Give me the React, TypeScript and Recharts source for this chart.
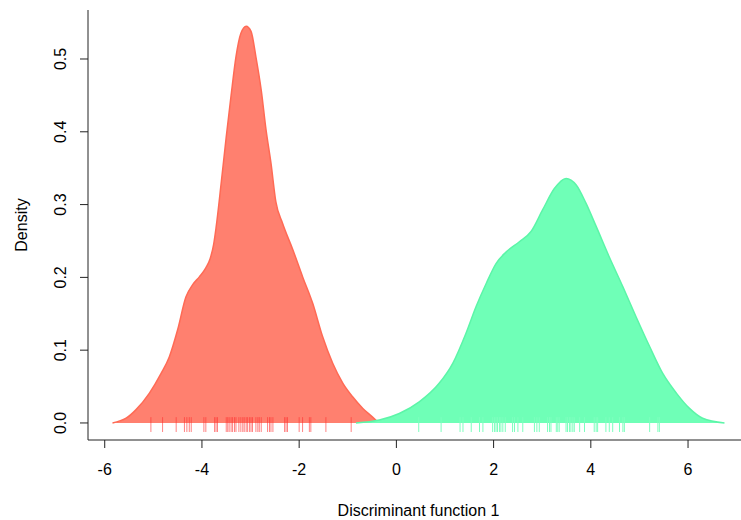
import React from "react";
import { ComposedChart, Area, XAxis, YAxis, ReferenceLine, Label } from "recharts";

// Density of group 1 (red)
const redX = [-5.84, -5.56, -5.36, -5.08, -4.84, -4.67, -4.5, -4.33, -4.19, -4.05, -3.92, -3.83, -3.76, -3.71, -3.6, -3.5, -3.4, -3.3, -3.2, -3.09, -2.99, -2.89, -2.78, -2.68, -2.58, -2.48, -2.34, -2.13, -1.93, -1.72, -1.52, -1.31, -1.1, -0.9, -0.69, -0.49, -0.38];
const redY = [0, 0.0065, 0.018, 0.041, 0.068, 0.091, 0.128, 0.173, 0.19, 0.201, 0.213, 0.226, 0.245, 0.268, 0.332, 0.393, 0.45, 0.503, 0.535, 0.545, 0.538, 0.503, 0.457, 0.402, 0.357, 0.304, 0.274, 0.238, 0.201, 0.164, 0.119, 0.082, 0.0545, 0.036, 0.02, 0.008, 0.001];

// Density of group 2 (green)
const greenX = [-0.83, -0.35, 0.06, 0.47, 0.88, 1.16, 1.43, 1.64, 1.85, 2.05, 2.26, 2.53, 2.77, 3.01, 3.25, 3.49, 3.7, 3.9, 4.11, 4.38, 4.66, 4.93, 5.21, 5.48, 5.76, 6.03, 6.3, 6.75];
const greenY = [0, 0.004, 0.013, 0.029, 0.0545, 0.082, 0.123, 0.16, 0.192, 0.219, 0.235, 0.249, 0.263, 0.293, 0.322, 0.336, 0.327, 0.302, 0.27, 0.228, 0.187, 0.146, 0.105, 0.068, 0.041, 0.02, 0.0065, 0];

// Rug values
const redRug = [-5.05, -4.81, -4.53, -4.36, -4.31, -4.26, -4.22, -3.96, -3.92, -3.74, -3.71, -3.68, -3.5, -3.47, -3.44, -3.4, -3.37, -3.33, -3.3, -3.24, -3.2, -3.16, -3.13, -3.09, -3.06, -3.02, -2.99, -2.96, -2.89, -2.85, -2.82, -2.78, -2.65, -2.61, -2.58, -2.54, -2.3, -2.27, -2.24, -2.0, -1.93, -1.79, -1.76, -1.45, -0.93];
const greenRug = [0.46, 0.92, 1.31, 1.37, 1.54, 1.71, 1.78, 1.98, 2.02, 2.05, 2.08, 2.12, 2.15, 2.19, 2.24, 2.39, 2.43, 2.5, 2.6, 2.84, 2.89, 2.94, 3.11, 3.15, 3.18, 3.29, 3.32, 3.35, 3.49, 3.52, 3.56, 3.59, 3.63, 3.66, 3.77, 3.87, 4.07, 4.11, 4.14, 4.31, 4.38, 4.45, 4.59, 4.66, 4.69, 5.21, 5.38, 5.41];

const xTicks = [-6, -4, -2, 0, 2, 4, 6];
const yTicks = [0, 0.1, 0.2, 0.3, 0.4, 0.5];
const xDomain = [-6.344, 7.254];
const yDomain = [-0.0234, 0.5673];
const rugTop = 0.008;
const rugBottom = -0.0124;

const redData = redX.map((x, i) => ({ x, y: redY[i] }));
const greenData = greenX.map((x, i) => ({ x, y: greenY[i] }));

const FONT = "'Liberation Sans', Arial, sans-serif";

const XTick = (props: any) => {
  const { x, y, payload } = props;
  return (
    <text x={x} y={y - 1} textAnchor="middle" fontSize={16} fontFamily={FONT} fill="#000">
      {String(payload.value)}
    </text>
  );
};

const YTick = (props: any) => {
  const { x, y, payload } = props;
  return (
    <text x={x} y={y} transform={`rotate(-90 ${x} ${y})`} textAnchor="middle" fontSize={16} fontFamily={FONT} fill="#000">
      {Number(payload.value).toFixed(1)}
    </text>
  );
};

export default function App() {
  return (
    <div style={{ position: "absolute", left: 0, top: 0, width: 741, height: 520, overflow: "hidden", background: "#fff" }}>
      <ComposedChart width={760} height={520} margin={{ top: 10, right: 11, bottom: 0, left: 0 }}>
        <XAxis
          type="number"
          dataKey="x"
          domain={xDomain}
          ticks={xTicks}
          allowDataOverflow
          height={80}
          tickSize={8}
          tickMargin={28}
          tick={<XTick />}
          stroke="#222"
          tickLine={{ stroke: "#222" }}
          axisLine={{ stroke: "#222" }}
        >
          <Label
            content={(p: any) => {
              const vb = p.viewBox;
              return (
                <text x={vb.x + vb.width / 2} y={516} textAnchor="middle" fontSize={16} fontFamily={FONT} fill="#000">
                  Discriminant function 1
                </text>
              );
            }}
          />
        </XAxis>
        <XAxis
          xAxisId="top"
          orientation="top"
          type="number"
          domain={xDomain}
          allowDataOverflow
          height={0}
          tick={false}
          tickLine={false}
          axisLine={{ stroke: "#222" }}
        />
        <YAxis
          type="number"
          domain={yDomain}
          ticks={yTicks}
          allowDataOverflow
          width={88}
          tickSize={8}
          tickMargin={14}
          tick={<YTick />}
          tickLine={{ stroke: "#222" }}
          axisLine={{ stroke: "#222" }}
        >
          <Label
            content={(p: any) => {
              const vb = p.viewBox;
              const cy = vb.y + vb.height / 2;
              return (
                <text x={27} y={cy} transform={`rotate(-90 27 ${cy})`} textAnchor="middle" fontSize={16} fontFamily={FONT} fill="#000">
                  Density
                </text>
              );
            }}
          />
        </YAxis>
        <Area
          data={redData}
          dataKey="y"
          type="monotone"
          stroke="#FF6A55"
          strokeWidth={1.5}
          fill="#FF806F"
          fillOpacity={1}
          dot={false}
          activeDot={false}
          isAnimationActive={false}
        />
        <Area
          data={greenData}
          dataKey="y"
          type="monotone"
          stroke="#5CF5A8"
          strokeWidth={1.5}
          fill="#6FFFB7"
          fillOpacity={1}
          dot={false}
          activeDot={false}
          isAnimationActive={false}
        />
        {redRug.map((v, i) => (
          <ReferenceLine
            key={`r${i}`}
            segment={[{ x: v, y: rugTop }, { x: v, y: rugBottom }]}
            stroke="#FF3030"
            strokeOpacity={0.6}
            strokeWidth={1}
            ifOverflow="visible"
          />
        ))}
        {greenRug.map((v, i) => (
          <ReferenceLine
            key={`g${i}`}
            segment={[{ x: v, y: rugTop }, { x: v, y: rugBottom }]}
            stroke="#7DFFBE"
            strokeWidth={1}
            ifOverflow="visible"
          />
        ))}
      </ComposedChart>
    </div>
  );
}
